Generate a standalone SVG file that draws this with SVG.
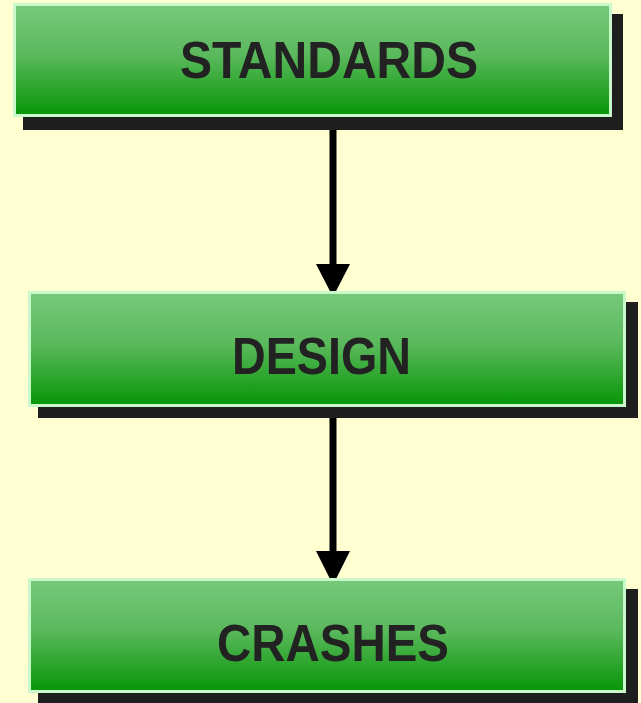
<svg xmlns="http://www.w3.org/2000/svg" width="641" height="703" viewBox="0 0 641 703">
<defs>
<linearGradient id="g" x1="0" y1="0" x2="0" y2="1">
<stop offset="0" stop-color="#76c97a"/>
<stop offset="0.45" stop-color="#5bb95d"/>
<stop offset="1" stop-color="#069606"/>
</linearGradient>
<marker id="ah" markerWidth="10" markerHeight="10" refX="9" refY="5" orient="auto" markerUnits="userSpaceOnUse" viewBox="0 0 10 10">
<path d="M0,0 L10,5 L0,10 Z" fill="#000"/>
</marker>
<style>
.sh{fill:#1e1e1e}
.bx{fill:url(#g);stroke:#c9f8cb;stroke-width:3}
.t{font-family:"Liberation Sans",Arial,sans-serif;font-weight:bold;font-size:52px;fill:#222}
.c{stroke:#000;stroke-width:7;fill:none}
</style>
</defs>
<rect width="641" height="703" fill="#ffffd2"/>
<g id="connectors">
<line class="c" x1="333" y1="125" x2="333" y2="266"/>
<path d="M316,264 L350,264 L333,297 Z" fill="#000"/>
<line class="c" x1="333" y1="412" x2="333" y2="553"/>
<path d="M316,551 L350,551 L333,585 Z" fill="#000"/>
</g>
<g id="standards">
<rect class="sh" x="23" y="14" width="600" height="116"/>
<rect class="bx" x="14.5" y="4.5" width="596" height="111"/>
<text class="t" x="180" y="78" textLength="298" lengthAdjust="spacingAndGlyphs">STANDARDS</text>
</g>
<g id="design">
<rect class="sh" x="38" y="302" width="600" height="116"/>
<rect class="bx" x="29.5" y="292.5" width="595" height="113"/>
<text class="t" x="232" y="374" textLength="179" lengthAdjust="spacingAndGlyphs">DESIGN</text>
</g>
<g id="crashes">
<rect class="sh" x="38" y="589" width="600" height="116"/>
<rect class="bx" x="29.5" y="579.5" width="595" height="112"/>
<text class="t" x="217" y="661" textLength="232" lengthAdjust="spacingAndGlyphs">CRASHES</text>
</g>
</svg>
